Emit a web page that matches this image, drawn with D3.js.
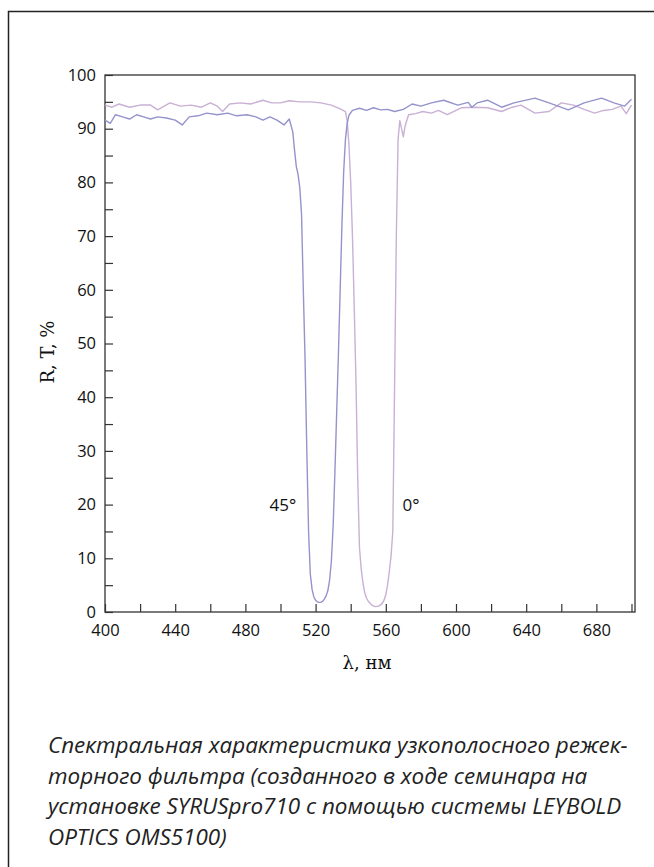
<!DOCTYPE html>
<html>
<head>
<meta charset="utf-8">
<script src="https://cdn.jsdelivr.net/npm/d3@7"></script>
<style>
  html, body { margin: 0; padding: 0; background: #fff; }
  svg { display: block; }
</style>
</head>
<body>
<div id="chart"></div>
<script>
// Спектр при 45° (нм, %)
var wl45 = [400, 403, 406, 410, 414, 418, 422, 426, 430, 435, 440, 444, 448, 453, 458, 464, 470, 475, 481, 486, 490, 494, 498, 502, 505, 507, 508, 509, 510, 511, 512, 513, 514, 515, 516, 517, 518, 519, 520, 521, 522, 523, 524, 525, 526, 527, 528, 529, 530, 531, 532, 533, 534, 535, 536, 537, 538, 539, 541, 545, 549, 553, 557, 561, 565, 570, 575, 580, 586, 593, 601, 607, 609, 612, 618, 626, 633, 645, 653, 664, 673, 683, 690, 696, 700];
var val45 = [91.6, 91.0, 92.6, 92.2, 91.8, 92.6, 92.2, 91.8, 92.2, 92.0, 91.6, 90.7, 92.2, 92.4, 92.9, 92.6, 92.9, 92.4, 92.6, 92.2, 91.6, 92.2, 91.6, 90.7, 91.8, 89.4, 86, 83, 81.5, 79, 74, 60, 47, 30, 15, 7, 4.2, 2.8, 2.2, 1.9, 1.8, 1.8, 2.0, 2.4, 3.0, 4.0, 6, 9.5, 16, 26, 37, 48, 60, 72, 82, 88, 91, 92.5, 93.4, 93.8, 93.4, 93.9, 93.5, 93.6, 93.2, 93.6, 94.6, 94.2, 94.8, 95.3, 94.4, 94.9, 94.0, 94.8, 95.3, 94.0, 94.8, 95.7, 94.8, 93.5, 94.8, 95.7, 94.8, 94.2, 95.5];

// Спектр при 0° (нм, %)
var wl0 = [400, 404, 408, 414, 420, 426, 430, 437, 443, 449, 455, 460, 464, 467, 471, 477, 483, 490, 495, 500, 505, 511, 517, 523, 529, 534, 537, 538, 539, 540, 541, 542, 543, 544, 545, 546, 547, 548, 549, 550, 552, 554, 556, 558, 559, 560, 561, 562, 563, 564, 565, 566, 567, 568, 569, 570, 571, 573, 577, 581, 586, 590, 595, 603, 610, 618, 626, 632, 637, 645, 653, 660, 667, 673, 679, 684, 689, 694, 697, 700];
var val0 = [94.4, 94.0, 94.6, 94.0, 94.4, 94.4, 93.5, 94.8, 94.2, 94.4, 94.0, 94.8, 94.2, 93.2, 94.6, 94.8, 94.6, 95.3, 94.8, 94.8, 95.2, 95.0, 95.0, 94.8, 94.4, 93.7, 93.2, 91.5, 87, 80, 70, 57, 43, 25, 12, 8, 5.4, 3.6, 2.6, 2.0, 1.3, 1.0, 1.1, 1.6, 2.2, 3.2, 5.0, 7.5, 10.5, 15, 42, 70, 88, 91.5, 90, 88.5, 90.5, 92.6, 92.8, 93.2, 92.9, 93.4, 92.6, 93.9, 94.0, 93.9, 93.2, 94.0, 94.4, 92.9, 93.2, 94.8, 94.4, 93.6, 92.9, 93.4, 93.6, 94.2, 92.8, 94.4];

var yTicks = d3.range(0, 101, 5);
var xTicks = d3.range(400, 701, 20);
var labels = [{ text: "45°", wl: 509, v: 20, anchor: "end" }, { text: "0°", wl: 569.5, v: 20, anchor: "start" }];
var caption = [
  "Спектральная характеристика узкополосного режек-",
  "торного фильтра (созданного в ходе семинара на",
  "установке SYRUSpro710 с помощью системы LEYBOLD",
  "OPTICS OMS5100)"
];

var W = 654, H = 867;
var plot = { left: 105, right: 635, top: 75, bottom: 612 };

var svg = d3.select("#chart").append("svg")
  .attr("width", W).attr("height", H);

svg.append("rect").attr("width", W).attr("height", H).attr("fill", "#fff");

// рамка страницы
svg.append("path")
  .attr("d", "M8.5," + H + "V11.5H" + W)
  .attr("fill", "none").attr("stroke", "#222").attr("stroke-width", 1.5);

var x = d3.scaleLinear().domain([400, 702]).range([plot.left, plot.right]);
var y = d3.scaleLinear().domain([0, 100]).range([plot.bottom, plot.top]);

// рамка графика
svg.append("rect")
  .attr("x", plot.left).attr("y", plot.top)
  .attr("width", plot.right - plot.left).attr("height", plot.bottom - plot.top)
  .attr("fill", "none").attr("stroke", "#333").attr("stroke-width", 1.3);

var tickFont = "'Open Sans', 'Noto Sans', sans-serif";

var gx = svg.append("g")
  .attr("transform", "translate(0," + plot.bottom + ")")
  .call(d3.axisBottom(x).tickValues(xTicks)
    .tickSizeInner(-8).tickSizeOuter(0).tickPadding(12)
    .tickFormat(function (d) { return d % 40 === 0 ? d : ""; }));

var gy = svg.append("g")
  .attr("transform", "translate(" + plot.left + ",0)")
  .call(d3.axisLeft(y).tickValues(yTicks)
    .tickSizeInner(-8).tickSizeOuter(0).tickPadding(9)
    .tickFormat(function (d) { return d % 10 === 0 ? d : ""; }));

[gx, gy].forEach(function (g) {
  g.select(".domain").remove();
  g.selectAll("line").attr("stroke", "#333").attr("stroke-width", 1.2);
  g.selectAll("text").attr("fill", "#111")
    .style("font-family", tickFont).style("font-size", "16.5px");
});

// кривые
var line = d3.line()
  .x(function (d) { return x(d[0]); })
  .y(function (d) { return y(d[1]); });

svg.append("path")
  .datum(d3.zip(wl0, val0))
  .attr("fill", "none").attr("stroke", "#c9b0d4").attr("stroke-width", 1.4)
  .attr("stroke-linejoin", "round")
  .attr("d", line);

svg.append("path")
  .datum(d3.zip(wl45, val45))
  .attr("fill", "none").attr("stroke", "#9593cc").attr("stroke-width", 1.4)
  .attr("stroke-linejoin", "round")
  .attr("d", line);

// подписи углов
svg.selectAll(".angle")
  .data(labels).enter().append("text")
  .attr("x", function (d) { return x(d.wl); })
  .attr("y", function (d) { return y(d.v); })
  .attr("dy", "0.35em")
  .attr("text-anchor", function (d) { return d.anchor; })
  .style("font-family", tickFont).style("font-size", "17px")
  .attr("fill", "#111")
  .text(function (d) { return d.text; });

// подписи осей
svg.append("text")
  .attr("x", 367).attr("y", 669)
  .attr("text-anchor", "middle")
  .style("font-family", "'DejaVu Serif', serif").style("font-size", "18px")
  .attr("fill", "#111")
  .text("λ, нм");

svg.append("text")
  .attr("transform", "translate(54," + 352 + ") rotate(-90)")
  .attr("text-anchor", "middle")
  .style("font-family", "'DejaVu Serif', serif").style("font-size", "18px")
  .attr("fill", "#111")
  .text("R, T, %");

// подпись к рисунку
var cap = svg.append("g").attr("class", "caption");
cap.selectAll("text")
  .data(caption).enter().append("text")
  .attr("x", 48)
  .attr("y", function (d, i) { return 753 + i * 30.5; })
  .style("font-family", "'Open Sans', sans-serif")
  .style("font-style", "italic")
  .style("font-size", "20px")
  .attr("fill", "#222")
  .text(function (d) { return d; });

// подгоняем кегль под ширину первой строки
var first = cap.select("text").node();
var w = first.getComputedTextLength();
var size = 20 * 580 / w;
cap.selectAll("text").style("font-size", size + "px");
</script>
</body>
</html>
